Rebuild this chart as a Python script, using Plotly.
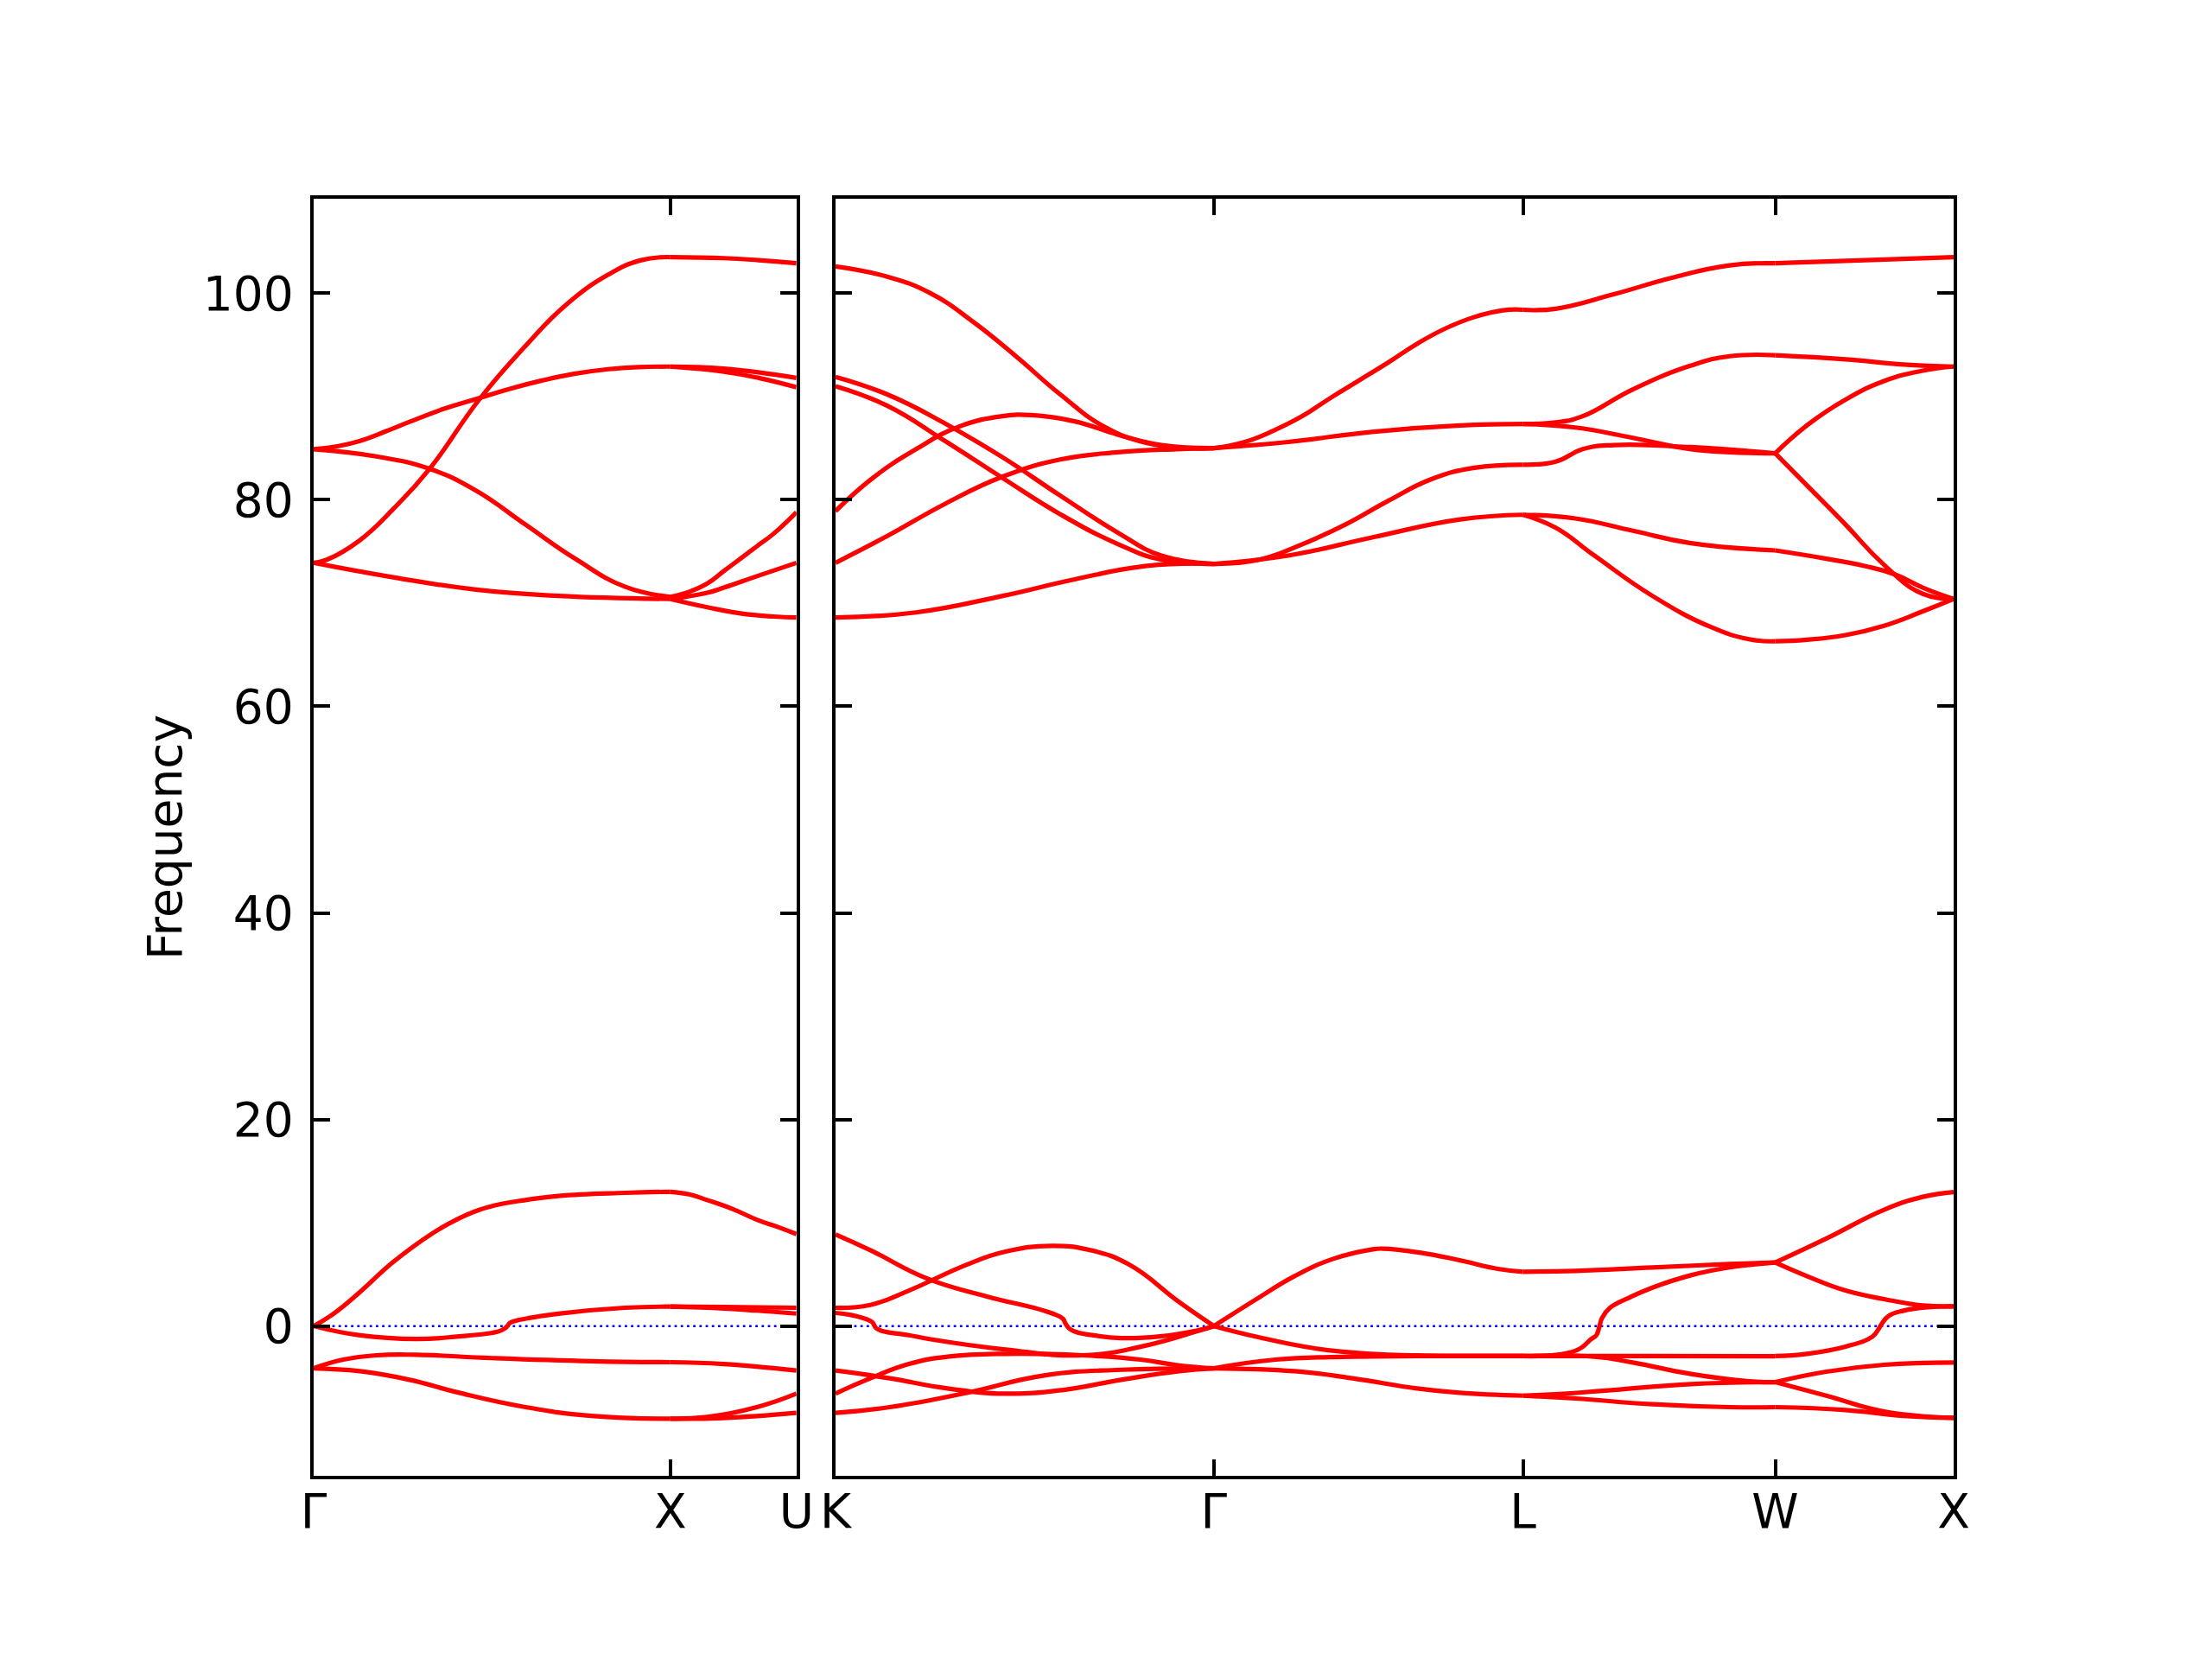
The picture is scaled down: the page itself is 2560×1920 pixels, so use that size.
import plotly.graph_objects as go

# ---------------- path (fcc, units of 2*pi/a) ----------------
LEFT_LABELS = ["Γ", "X", "U"]
LEFT_SEGS = [1.0, 0.35355]
RIGHT_LABELS = ["K", "Γ", "L", "W", "X"]
RIGHT_SEGS = [1.06066, 0.86603, 0.70711, 0.5]

# Each band: (fraction along segment, frequency)
GX_bands = [
    ([0, 0.037, 0.13, 0.223, 0.325, 0.464, 0.594, 0.705, 0.826, 0.918, 1],
     [73.9, 74.2, 76.1, 79.1, 83.0, 89.7, 94.9, 98.8, 101.8, 103.2, 103.5]),
    ([0, 0.07, 0.13, 0.2, 0.269, 0.364, 0.464, 0.55, 0.64, 0.73, 0.826, 0.91, 1],
     [84.9, 85.2, 85.7, 86.6, 87.55, 88.8, 89.85, 90.75, 91.55, 92.2, 92.65, 92.85, 92.9]),
    ([0, 0.176, 0.325, 0.455, 0.594, 0.733, 0.872, 1],
     [84.9, 84.2, 83.0, 80.9, 77.6, 74.3, 71.6, 70.6]),
    ([0, 0.223, 0.455, 0.686, 1],
     [73.9, 72.5, 71.3, 70.7, 70.4]),
    ([0, 0.056, 0.13, 0.223, 0.334, 0.4, 0.464, 0.53, 0.594, 0.686, 0.872, 1],
     [0, 1.2, 3.3, 6.2, 9.0, 10.3, 11.25, 11.85, 12.2, 12.6, 12.9, 13.0]),
    ([0, 0.13, 0.288, 0.408, 0.501, 0.52, 0.535, 0.543, 0.55, 0.565, 0.6, 0.686, 0.872, 1],
     [0, -0.9, -1.25, -1.0, -0.65, -0.5, -0.25, 0, 0.3, 0.5, 0.75, 1.2, 1.77, 1.88]),
    ([0, 0.083, 0.176, 0.288, 0.501, 0.779, 1],
     [-4.09, -3.25, -2.83, -2.78, -3.1, -3.4, -3.5]),
    ([0, 0.13, 0.269, 0.408, 0.594, 0.779, 1],
     [-4.09, -4.37, -5.2, -6.46, -7.85, -8.69, -8.97]),
]

XU_bands = [
    ([0, 0.424, 0.7, 1], [103.5, 103.4, 103.2, 102.9]),
    ([0, 0.424, 1], [92.9, 92.7, 91.8]),
    ([0, 0.424, 0.7, 1], [92.9, 92.4, 91.8, 90.9]),
    ([0, 0.15, 0.293, 0.424, 0.555, 0.686, 0.817, 1],
     [70.6, 71.1, 71.9, 73.1, 74.3, 75.5, 76.7, 78.8]),
    ([0, 0.293, 0.424, 0.686, 1], [70.4, 71.0, 71.5, 72.6, 73.9]),
    ([0, 0.293, 0.555, 0.817, 1], [70.4, 69.6, 69.0, 68.7, 68.6]),
    ([0, 0.15, 0.293, 0.5, 0.686, 0.85, 1], [13.0, 12.75, 12.2, 11.3, 10.3, 9.6, 8.9]),
    ([0, 0.424, 1], [1.88, 1.85, 1.77]),
    ([0, 0.424, 0.686, 1], [1.88, 1.7, 1.5, 1.21]),
    ([0, 0.424, 1], [-3.5, -3.67, -4.31]),
    ([0, 0.293, 0.686, 1], [-8.97, -8.8, -7.85, -6.54]),
    ([0, 0.424, 1], [-8.97, -8.9, -8.41]),
]

KG_bands = [
    ([0, 0.137, 0.251, 0.365, 0.48, 0.594, 0.709, 0.823, 0.938, 1],
     [102.6, 101.6, 100.0, 97.2, 93.8, 90.2, 87.1, 85.5, 85.0, 85.0]),
    ([0, 0.137, 0.289, 0.442, 0.594, 0.747, 0.861, 1],
     [91.9, 90.2, 87.4, 84.1, 80.4, 76.8, 74.6, 73.8]),
    ([0, 0.137, 0.289, 0.442, 0.594, 0.747, 0.861, 1],
     [91.0, 89.1, 85.7, 82.1, 78.6, 75.7, 74.2, 73.8]),
    ([0, 0.098, 0.213, 0.327, 0.442, 0.518, 0.632, 0.747, 0.861, 1],
     [78.9, 82.1, 84.9, 87.1, 88.1, 88.2, 87.6, 86.3, 85.3, 85.0]),
    ([0, 0.137, 0.289, 0.442, 0.594, 0.747, 0.899, 1],
     [73.9, 76.5, 79.6, 82.25, 83.9, 84.6, 84.9, 85.0]),
    ([0, 0.213, 0.442, 0.632, 0.823, 1],
     [68.6, 69.1, 70.7, 72.3, 73.6, 73.8]),
    ([0, 0.092, 0.245, 0.398, 0.551, 0.592, 0.602, 0.607, 0.612, 0.622, 0.643, 0.673, 0.755, 0.857, 0.959, 1],
     [8.88, 7.35, 4.56, 2.89, 1.49, 0.93, 0.66, 0.3, 0, -0.35, -0.65, -0.85, -1.16, -1.0, -0.4, 0]),
    ([0, 0.092, 0.194, 0.347, 0.449, 0.571, 0.673, 0.776, 0.908, 1],
     [1.77, 2.05, 3.44, 5.95, 7.21, 7.77, 7.35, 5.95, 2.33, 0]),
    ([0, 0.041, 0.082, 0.097, 0.102, 0.107, 0.122, 0.194, 0.245, 0.449, 0.653, 0.806, 0.959, 1],
     [1.27, 1.07, 0.66, 0.38, 0.1, -0.18, -0.46, -0.88, -1.24, -2.27, -2.83, -2.0, -0.46, 0]),
    ([0, 0.092, 0.194, 0.296, 0.449, 0.653, 0.806, 0.908, 1],
     [-6.54, -5.06, -3.67, -2.97, -2.69, -2.83, -3.25, -3.81, -4.09]),
    ([0, 0.143, 0.296, 0.449, 0.602, 0.755, 0.908, 1],
     [-4.31, -5.06, -6.04, -6.54, -6.18, -5.20, -4.37, -4.09]),
    ([0, 0.143, 0.347, 0.551, 0.755, 1],
     [-8.41, -7.85, -6.46, -4.78, -4.23, -4.09]),
]

GL_bands = [
    ([0, 0.1, 0.193, 0.286, 0.379, 0.472, 0.564, 0.657, 0.75, 0.843, 0.936, 1],
     [85.0, 85.6, 86.7, 88.1, 89.9, 91.6, 93.3, 95.1, 96.6, 97.7, 98.35, 98.4]),
    ([0, 0.24, 0.518, 0.797, 1],
     [85.0, 85.6, 86.6, 87.2, 87.35]),
    ([0, 0.147, 0.286, 0.425, 0.564, 0.704, 0.843, 1],
     [73.8, 74.2, 75.7, 77.6, 79.9, 82.0, 83.1, 83.4]),
    ([0, 0.24, 0.518, 0.797, 1],
     [73.8, 74.6, 76.4, 78.1, 78.55]),
    ([0, 0.137, 0.261, 0.386, 0.51, 0.546, 0.67, 0.795, 0.919, 1],
     [0, 2.6, 4.84, 6.51, 7.41, 7.5, 7.1, 6.37, 5.54, 5.26]),
    ([0, 0.137, 0.323, 0.51, 0.657, 1],
     [0, -1.03, -2.14, -2.69, -2.83, -2.88]),
    ([0, 0.2, 0.448, 0.657, 1],
     [-4.09, -3.25, -2.97, -2.91, -2.9]),
    ([0, 0.261, 0.448, 0.657, 0.795, 1],
     [-4.09, -4.37, -5.06, -6.04, -6.46, -6.74]),
]

LW_bands = [
    ([0, 0.13, 0.36, 0.59, 0.819, 1], [98.4, 98.5, 99.9, 101.5, 102.7, 102.9]),
    ([0, 0.13, 0.237, 0.436, 0.666, 0.819, 1], [87.35, 87.5, 88.1, 90.7, 93.0, 93.9, 94.0]),
    ([0, 0.207, 0.436, 0.666, 1], [87.35, 87.0, 86.0, 84.9, 84.5]),
    ([0, 0.13, 0.237, 0.36, 0.666, 1], [83.4, 83.7, 84.9, 85.3, 85.1, 84.5]),
    ([0, 0.207, 0.436, 0.666, 1], [78.55, 78.2, 77.0, 75.8, 75.1]),
    ([0, 0.13, 0.283, 0.513, 0.743, 0.896, 1], [78.55, 77.3, 74.6, 70.7, 67.7, 66.5, 66.3]),
    ([0, 0.207, 0.513, 0.819, 1], [5.26, 5.34, 5.68, 6.0, 6.15]),
    ([0, 0.13, 0.207, 0.237, 0.268, 0.291, 0.303, 0.314, 0.345, 0.421, 0.513, 0.666, 0.819, 1],
     [-2.91, -2.8, -2.4, -2.0, -1.3, -0.88, -0.04, 0.8, 1.77, 2.75, 3.72, 4.92, 5.68, 6.15]),
    ([0, 0.5, 1], [-2.9, -2.9, -2.92]),
    ([0, 0.283, 0.436, 0.666, 0.896, 1], [-2.91, -2.97, -3.53, -4.64, -5.34, -5.43]),
    ([0, 0.13, 0.36, 0.666, 1], [-6.74, -6.6, -6.18, -5.62, -5.43]),
    ([0, 0.207, 0.513, 0.819, 1], [-6.74, -7.01, -7.57, -7.85, -7.85]),
]

WX_bands = [
    ([0, 0.502, 1], [102.9, 103.2, 103.5]),
    ([0, 0.394, 0.719, 1], [94.0, 93.6, 93.1, 92.9]),
    ([0, 0.177, 0.394, 0.61, 0.827, 1], [84.5, 87.2, 89.7, 91.5, 92.5, 92.9]),
    ([0, 0.177, 0.394, 0.55, 0.667, 0.75, 0.827, 0.91, 1],
     [84.5, 81.4, 77.6, 74.7, 72.8, 71.6, 70.9, 70.5, 70.4]),
    ([0, 0.286, 0.5, 0.667, 0.827, 1], [75.1, 74.3, 73.6, 72.8, 71.5, 70.4]),
    ([0, 0.177, 0.394, 0.61, 0.827, 1], [66.3, 66.45, 66.9, 67.8, 69.2, 70.4]),
    ([0, 0.286, 0.61, 0.827, 1], [6.15, 8.47, 11.26, 12.51, 12.98]),
    ([0, 0.177, 0.394, 0.61, 0.827, 1], [6.15, 4.84, 3.44, 2.61, 1.99, 1.91]),
    ([0, 0.177, 0.394, 0.545, 0.578, 0.593, 0.632, 0.719, 0.87, 1],
     [-2.91, -2.69, -1.99, -1.02, -0.32, 0.1, 0.93, 1.49, 1.85, 1.91]),
    ([0, 0.286, 0.61, 1], [-5.43, -4.42, -3.75, -3.53]),
    ([0, 0.286, 0.61, 1], [-5.43, -6.74, -8.27, -8.89]),
    ([0, 0.394, 0.719, 1], [-7.85, -8.13, -8.69, -8.89]),
]

Y_TICKS = [0, 20, 40, 60, 80, 100]
Y_RANGE = [-14.5, 109.15]

LEFT_PANEL = [GX_bands, XU_bands]
RIGHT_PANEL = [KG_bands, GL_bands, LW_bands, WX_bands]

# ---------------- figure ----------------
RED = "#ff0000"
LW = 5.2
fig = go.Figure()


def cumulative(segs):
    out = [0.0]
    for s in segs:
        out.append(out[-1] + s)
    return out


def add_panel(panel, segs, xref, yref):
    starts = cumulative(segs)
    fig.add_trace(go.Scatter(x=[0, starts[-1]], y=[0, 0], mode="lines",
                             line=dict(color="blue", width=2.6, dash="2.8px,4.4px"),
                             xaxis=xref, yaxis=yref, hoverinfo="skip"))
    for si, bands in enumerate(panel):
        x0, L = starts[si], segs[si]
        for q, f in bands:
            fig.add_trace(go.Scatter(
                x=[x0 + v * L for v in q], y=f, mode="lines",
                line=dict(color=RED, width=LW, shape="spline", smoothing=1.3),
                xaxis=xref, yaxis=yref, hoverinfo="skip"))
    return starts


ls = add_panel(LEFT_PANEL, LEFT_SEGS, "x", "y")
rs = add_panel(RIGHT_PANEL, RIGHT_SEGS, "x2", "y2")

axis_common = dict(showline=True, linecolor="black", linewidth=4.4, mirror="ticks",
                   ticks="inside", ticklen=19, tickwidth=4.4, tickcolor="black",
                   showgrid=False, zeroline=False,
                   tickfont=dict(family="DejaVu Sans", size=55, color="black"))

fig.update_layout(
    width=2560, height=1920,
    margin=dict(l=355, r=307, t=222, b=220),
    paper_bgcolor="white", plot_bgcolor="white",
    showlegend=False,
    font=dict(family="DejaVu Sans", size=55, color="black"),
    xaxis=dict(domain=[0, 0.2944], range=[0, ls[-1]], tickmode="array",
               tickvals=ls, ticktext=LEFT_LABELS, anchor="y",
               ticklabelstandoff=-10, **axis_common),
    yaxis=dict(range=Y_RANGE, tickmode="array", tickvals=Y_TICKS,
               ticktext=[str(t) for t in Y_TICKS], anchor="x",
               ticklabelstandoff=8,
               title=dict(text="Frequency", standoff=8,
                          font=dict(family="DejaVu Sans", size=55, color="black")),
               **axis_common),
    xaxis2=dict(domain=[0.3182, 1], range=[0, rs[-1]], tickmode="array",
                tickvals=rs, ticktext=RIGHT_LABELS, anchor="y2",
                ticklabelstandoff=-10, **axis_common),
    yaxis2=dict(range=Y_RANGE, tickmode="array", tickvals=Y_TICKS,
                showticklabels=False, anchor="x2", matches="y", **axis_common),
)

fig.write_html("out.html")
